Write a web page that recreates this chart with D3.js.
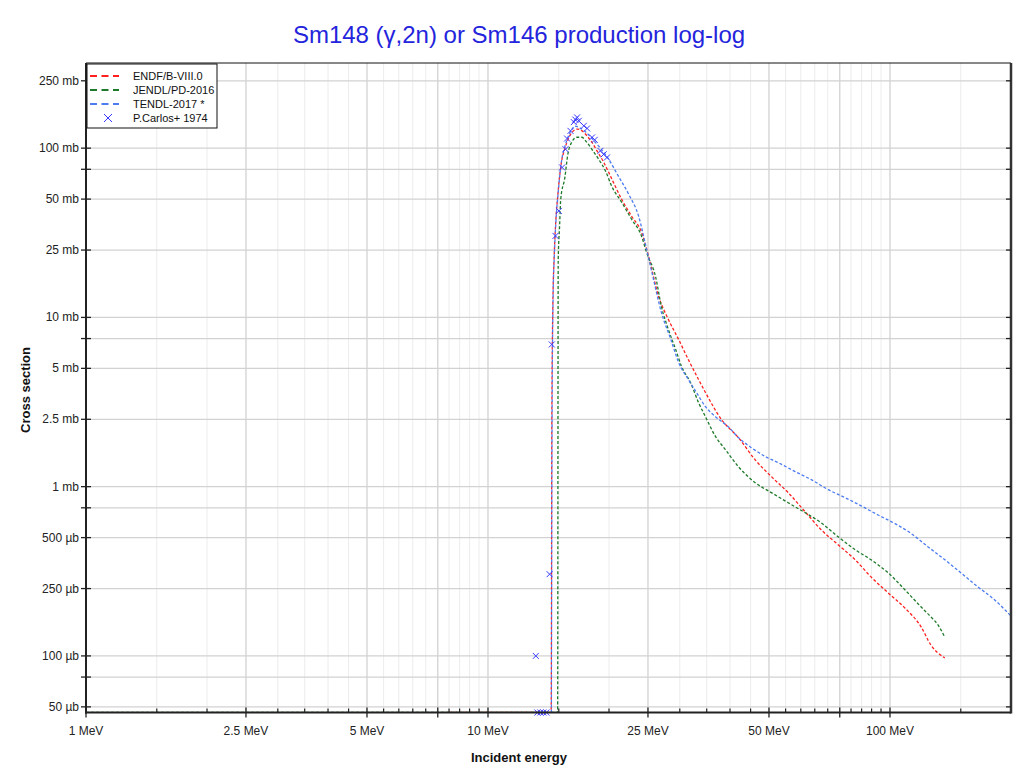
<!DOCTYPE html>
<html>
<head>
<meta charset="utf-8">
<script src="https://cdn.jsdelivr.net/npm/d3@7"></script>
<style>
  body { margin: 0; background: #fff; }
  svg { font-family: "Liberation Sans", Arial, sans-serif; }
</style>
</head>
<body>
<div id="chart-area"></div>
<script>
// Data: [energy (MeV), cross section (mb)], 0 = below plot
let endf = [[8, 0], [14.36, 0], [14.42, 3], [14.5, 12], [14.6, 22], [14.72, 34.5], [14.94, 55],
  [15.23, 82.6], [15.52, 98.6], [15.82, 113], [16.19, 124], [16.66, 129.5], [17.14, 126.5],
  [17.64, 118], [18.15, 108], [18.67, 96.4], [19.4, 82.6], [19.96, 72], [21.5, 49.9],
  [22.77, 39.6], [24.1, 31.8], [25.08, 23], [26.57, 13.3], [28.1, 9.73], [29.8, 7.41],
  [31.5, 5.64], [33.4, 4.3], [34.75, 3.6], [38.1, 2.49], [41.96, 1.95], [46.2, 1.44],
  [50.7, 1.146], [55.8, 0.922], [61.5, 0.711], [67.4, 0.557], [74.3, 0.454], [81.9, 0.37],
  [89.7, 0.293], [98.9, 0.236], [108.9, 0.192], [119.4, 0.149], [126.4, 0.116], [136.9, 0.0973]];

let jendl = [[1, 0], [14.9, 0], [14.95, 22], [15.07, 34.5], [15.17, 50], [15.53, 67], [15.8, 92],
  [16.16, 108.6], [16.63, 116], [17.11, 116], [17.6, 108.6], [18.12, 98.6], [18.85, 86],
  [19.62, 73], [20.31, 59.6], [21.5, 47.9], [22.77, 38], [24.1, 30.2], [24.8, 24.2],
  [26.1, 17.5], [27.0, 11.6], [28.1, 8.49], [29.3, 6.47], [30.3, 5.13], [31.9, 4.12],
  [33.4, 3.14], [34.75, 2.59], [36.8, 1.98], [38.96, 1.655], [41.96, 1.313], [46.2, 1.056],
  [50.7, 0.922], [55.8, 0.804], [61.5, 0.702], [67.4, 0.612], [74.3, 0.506], [81.9, 0.424],
  [89.7, 0.37], [98.9, 0.31], [108.9, 0.246], [119.4, 0.195], [126.4, 0.17], [131.5, 0.153],
  [136.9, 0.129]];

let tendl = [[14.38, 0], [14.44, 3], [14.52, 13], [14.62, 23], [14.75, 36], [14.97, 57],
  [15.25, 85], [15.55, 103], [15.85, 118], [16.2, 130], [16.44, 135], [16.9, 132],
  [17.51, 124.4], [18.2, 113], [18.85, 102.8], [19.96, 86], [21.1, 68.3], [22.39, 53.4],
  [23.7, 39.6], [24.8, 25.3], [25.8, 16.8], [27.0, 10.7],
  [28.5, 7.41], [29.8, 5.42], [31.5, 4.3], [33.0, 3.6], [34.75, 2.97], [36.8, 2.59],
  [39.6, 2.26], [41.96, 1.95], [45.2, 1.7], [49.0, 1.505], [52.7, 1.387], [58.1, 1.227],
  [63.7, 1.1], [70.2, 0.96], [77.3, 0.861], [84.8, 0.77], [93.4, 0.68], [102.9, 0.605],
  [112.7, 0.53], [124.2, 0.442], [136.9, 0.37], [150, 0.31], [165.4, 0.256], [182.2, 0.214],
  [200, 0.172]];

let carlos = [[13.15, 0.1], [13.27, 0], [13.5, 0], [13.73, 0], [13.97, 0], [14.23, 0.304],
  [14.41, 6.92], [14.72, 30.3], [15.01, 42.6], [15.29, 76.9], [15.59, 98.6], [15.73, 114],
  [16.04, 126.5], [16.35, 142.5], [16.49, 147.5], [16.66, 152], [16.82, 145], [17.31, 135.5],
  [17.64, 130.8], [18.15, 115.7], [18.43, 112], [19.04, 96.4], [19.4, 92], [19.77, 88.1]];

let seriesNames = ["ENDF/B-VIII.0", "JENDL/PD-2016", "TENDL-2017 *", "P.Carlos+ 1974"];
let seriesColors = ["#ff2020", "#1e7a2a", "#4d7cf0", "#3a3aff"];

let xMajor = [1, 2.5, 5, 7.5, 10, 25, 50, 75, 100];
let xLabels = [1, 2.5, 5, 10, 25, 50, 100];
let yMajor = [0.05, 0.075, 0.1, 0.25, 0.5, 0.75, 1, 2.5, 5, 7.5, 10, 25, 50, 75, 100, 250];
let yLabels = [0.05, 0.1, 0.25, 0.5, 1, 2.5, 5, 10, 25, 50, 100, 250];

let W = 1022, H = 773;
let plot = { left: 86, right: 1011, top: 63, bottom: 712.5 };

let svg = d3.select("#chart-area")
  .append("svg")
  .attr("width", W)
  .attr("height", H);

svg.append("rect").attr("width", W).attr("height", H).attr("fill", "#fff");

// Scales
let x = d3.scaleLog().domain([1, 200]).range([plot.left, plot.right]);
let y = d3.scaleLog().domain([0.04631, 318.5]).range([plot.bottom, plot.top]);
let yOf = (v) => v > 0 ? y(v) : y.range()[0];

// minor x ticks: 1/20 of a decade
let xMinor = [];
d3.range(1.5, 10, 0.5).forEach(v => xMinor.push(v));
d3.range(15, 100, 5).forEach(v => xMinor.push(v));
d3.range(150, 200, 50).forEach(v => xMinor.push(v));
xMinor = xMinor.filter(v => !xMajor.some(m => Math.abs(m - v) < 1e-9));

// Grid
let grid = svg.append("g");
grid.selectAll(".xminor").data(xMinor).enter().append("line")
  .attr("x1", d => x(d)).attr("x2", d => x(d))
  .attr("y1", plot.top).attr("y2", plot.bottom)
  .attr("stroke", "#ececec").attr("stroke-width", 1);
grid.selectAll(".xmajor").data(xMajor).enter().append("line")
  .attr("x1", d => x(d)).attr("x2", d => x(d))
  .attr("y1", plot.top).attr("y2", plot.bottom)
  .attr("stroke", "#d2d2d2").attr("stroke-width", 1.3);
grid.selectAll(".ymajor").data(yMajor).enter().append("line")
  .attr("x1", plot.left).attr("x2", plot.right)
  .attr("y1", d => y(d)).attr("y2", d => y(d))
  .attr("stroke", "#d2d2d2").attr("stroke-width", 1.3);

// Curves
svg.append("clipPath").attr("id", "clip")
  .append("rect")
  .attr("x", plot.left).attr("y", plot.top)
  .attr("width", plot.right - plot.left).attr("height", plot.bottom - plot.top);

let line = d3.line()
  .curve(d3.curveMonotoneX)
  .x(d => x(d[0]))
  .y(d => yOf(d[1]));

let curves = svg.append("g").attr("clip-path", "url(#clip)");
[endf, jendl, tendl].forEach((data, i) => {
  curves.append("path")
    .datum(data)
    .attr("d", line)
    .attr("fill", "none")
    .attr("stroke", seriesColors[i])
    .attr("stroke-width", 1.3)
    .attr("stroke-dasharray", "3,2");
});

// Experimental points
let s = 3;
let marks = svg.append("g");
carlos.forEach(d => {
  let cx = x(d[0]), cy = yOf(d[1]);
  marks.append("path")
    .attr("d", "M" + (cx - s) + "," + (cy - s) + "L" + (cx + s) + "," + (cy + s) +
      "M" + (cx - s) + "," + (cy + s) + "L" + (cx + s) + "," + (cy - s))
    .attr("stroke", seriesColors[3])
    .attr("stroke-width", 1);
});

// Frame
svg.append("line").attr("x1", plot.left).attr("x2", plot.right)
  .attr("y1", plot.top).attr("y2", plot.top).attr("stroke", "#111").attr("stroke-width", 1);
svg.append("line").attr("x1", plot.right).attr("x2", plot.right)
  .attr("y1", plot.top).attr("y2", plot.bottom + 1).attr("stroke", "#333").attr("stroke-width", 2.5);
svg.append("line").attr("x1", plot.left).attr("x2", plot.left)
  .attr("y1", plot.top).attr("y2", plot.bottom + 1).attr("stroke", "#222").attr("stroke-width", 2);
svg.append("line").attr("x1", plot.left - 1).attr("x2", plot.right)
  .attr("y1", plot.bottom).attr("y2", plot.bottom).attr("stroke", "#222").attr("stroke-width", 2);

// Y ticks
let yFmt = (v) => v < 1 ? d3.format("~g")(+(v * 1000).toFixed(3)) + " µb" : d3.format("~g")(v) + " mb";
let yt = svg.append("g");
yt.selectAll("line.l").data(yMajor).enter().append("line")
  .attr("x1", plot.left - 5).attr("x2", plot.left + 5)
  .attr("y1", d => y(d)).attr("y2", d => y(d))
  .attr("stroke", "#222").attr("stroke-width", 1.3);
yt.selectAll("line.r").data(yMajor).enter().append("line")
  .attr("x1", plot.right - 5).attr("x2", plot.right)
  .attr("y1", d => y(d)).attr("y2", d => y(d))
  .attr("stroke", "#222").attr("stroke-width", 1.3);
yt.selectAll("text").data(yLabels).enter().append("text")
  .attr("x", plot.left - 7)
  .attr("y", d => y(d) + 4)
  .attr("text-anchor", "end")
  .attr("font-size", "12px")
  .attr("fill", "#222")
  .text(yFmt);

// X ticks
let xt = svg.append("g");
xt.selectAll("line.maj").data(xMajor).enter().append("line")
  .attr("x1", d => x(d)).attr("x2", d => x(d))
  .attr("y1", plot.bottom - 5).attr("y2", plot.bottom + 5)
  .attr("stroke", "#222").attr("stroke-width", 1.3);
xt.selectAll("line.min").data(xMinor).enter().append("line")
  .attr("x1", d => x(d)).attr("x2", d => x(d))
  .attr("y1", plot.bottom - 4).attr("y2", plot.bottom)
  .attr("stroke", "#222").attr("stroke-width", 1.2);
xt.selectAll("text").data(xLabels).enter().append("text")
  .attr("x", d => x(d))
  .attr("y", plot.bottom + 22)
  .attr("text-anchor", "middle")
  .attr("font-size", "12px")
  .attr("fill", "#222")
  .text(d => d + " MeV");

// Titles
svg.append("text")
  .attr("x", 519).attr("y", 43)
  .attr("text-anchor", "middle")
  .attr("font-size", "24px")
  .attr("fill", "#2424dc")
  .text("Sm148 (γ,2n) or Sm146 production log-log");

svg.append("text")
  .attr("x", 519).attr("y", 762)
  .attr("text-anchor", "middle")
  .attr("font-size", "13px")
  .attr("font-weight", "bold")
  .attr("fill", "#111")
  .text("Incident energy");

svg.append("text")
  .attr("transform", "translate(30,390) rotate(-90)")
  .attr("text-anchor", "middle")
  .attr("font-size", "13px")
  .attr("font-weight", "bold")
  .attr("fill", "#111")
  .text("Cross section");

// Legend
let legend = svg.append("g").attr("transform", "translate(87,64)");
legend.append("rect")
  .attr("width", 130).attr("height", 64)
  .attr("fill", "#fff").attr("stroke", "#111").attr("stroke-width", 1);

seriesNames.forEach((name, i) => {
  let row = legend.append("g").attr("transform", "translate(0," + (12 + i * 14) + ")");
  if (i < 3) {
    row.append("line")
      .attr("x1", 3).attr("x2", 32).attr("y1", 0).attr("y2", 0)
      .attr("stroke", seriesColors[i])
      .attr("stroke-width", 2)
      .attr("stroke-dasharray", "7,4.5");
  } else {
    row.append("path")
      .attr("d", "M17,-4L25,4M17,4L25,-4")
      .attr("stroke", seriesColors[3])
      .attr("stroke-width", 1);
  }
  row.append("text")
    .attr("x", 46).attr("y", 4)
    .attr("font-size", "11px")
    .attr("fill", "#111")
    .text(name);
});
</script>
</body>
</html>
